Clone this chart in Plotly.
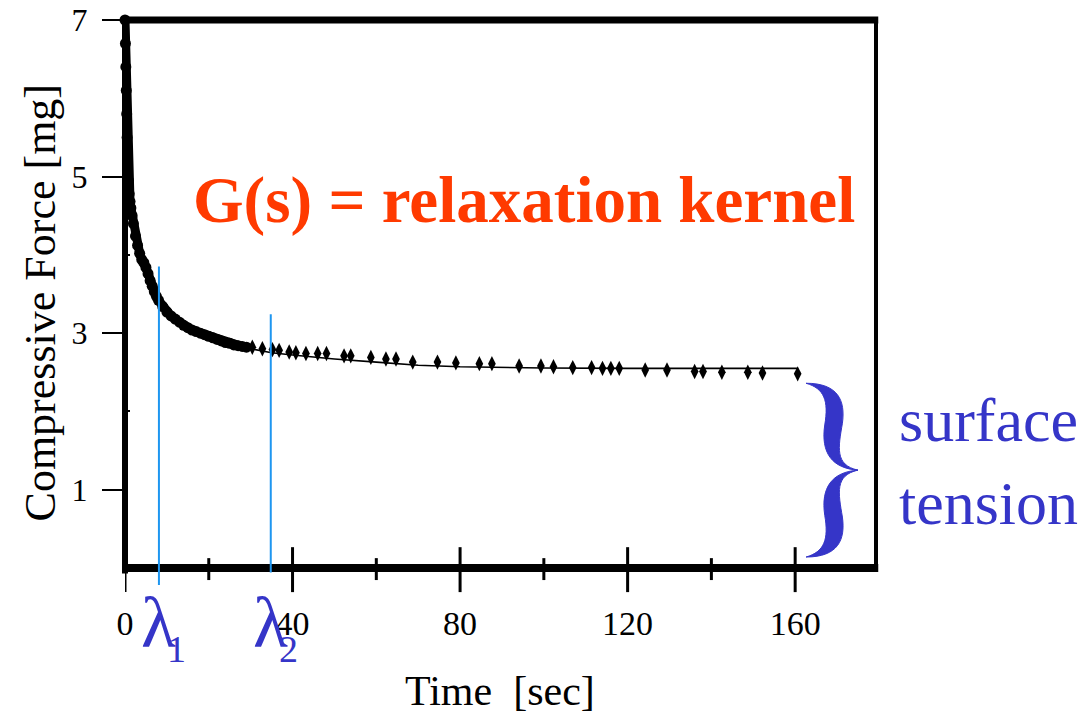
import plotly.graph_objects as go

# ---------------- data ----------------
early_t = [0.0, 0.1, 0.2, 0.3, 0.4, 0.5, 0.6, 0.8, 1.0, 1.2, 1.4, 1.7, 2.0, 2.5, 3.0,
           3.5, 4.0, 4.5, 5.0, 5.5, 6.0, 6.5, 7.0, 7.5, 8.0, 9.0, 10.0, 11.0, 12.0,
           13.0, 14.0, 15.0, 16.0, 17.0, 18.0, 19.0, 20.0, 21.0, 22.0, 23.0, 24.0,
           25.0, 26.0, 27.0, 28.0, 29.0]
early_y = [7.0, 6.7, 6.4, 6.1, 5.8, 5.5, 5.25, 4.95, 4.78, 4.68, 4.6, 4.5, 4.4, 4.24, 4.12,
           4.02, 3.94, 3.9, 3.84, 3.76, 3.67, 3.6, 3.53, 3.47, 3.42, 3.34, 3.27, 3.22, 3.18,
           3.14, 3.1, 3.07, 3.04, 3.02, 3.0, 2.98, 2.96, 2.94, 2.92, 2.9, 2.88,
           2.87, 2.85, 2.84, 2.83, 2.82]

late_t = [30.4, 32.8, 35.2, 36.8, 39.2, 40.8, 43.2, 46.0, 48.1, 52.3, 53.9, 58.7, 62.3,
          64.7, 68.7, 74.6, 79.0, 84.6, 87.6, 94.1, 99.3, 102.3, 106.9, 111.4, 114.0,
          116.0, 118.0, 124.2, 129.4, 136.0, 138.0, 142.5, 148.7, 152.2, 160.6]
late_y = [2.82, 2.80, 2.79, 2.78, 2.76, 2.75, 2.74, 2.74, 2.74, 2.71, 2.71, 2.69, 2.67,
          2.67, 2.63, 2.63, 2.62, 2.61, 2.61, 2.58, 2.58, 2.57, 2.56, 2.56, 2.55,
          2.55, 2.55, 2.53, 2.53, 2.51, 2.51, 2.50, 2.50, 2.49, 2.48]

fit_t = [0, 0.3, 0.6, 1, 1.5, 2, 3, 4, 5, 6, 8, 10, 12, 15, 20, 25, 30, 35, 40, 50, 60,
         70, 80, 90, 100, 120, 140, 160.6]
fit_y = [7.0, 6.1, 5.25, 4.78, 4.55, 4.4, 4.12, 3.94, 3.84, 3.67, 3.42, 3.27, 3.18, 3.07,
         2.96, 2.87, 2.80, 2.75, 2.72, 2.67, 2.63, 2.59, 2.57, 2.56, 2.555, 2.55, 2.55, 2.55]

lambda_t = [8.1, 34.8]          # relaxation times marked by the blue lines
lambda_top = [3.85, 3.24]       # where each marker line ends (force units)
lambda_names = ["1", "2"]

x_major = [0, 40, 80, 120, 160]
x_minor = [20, 60, 100, 140]
y_major = [1, 3, 5, 7]
y_minor = [2, 4, 6]

surface_tension = 2.36          # plateau (brace spans from 0 up to it)
X_RANGE = [0, 179.3]
Y_RANGE = [0, 7]

SERIF = "Liberation Serif, Times New Roman, serif"
BLUE = "#3535C8"
LBLUE = "#1E96F0"
RED = "#FF3A00"

fig = go.Figure()

fig.add_trace(go.Scatter(x=fit_t, y=fit_y, mode="lines",
                         line=dict(color="black", width=1.6), hoverinfo="skip"))
fig.add_trace(go.Scatter(x=early_t, y=early_y, mode="lines+markers",
                         line=dict(color="black", width=9),
                         marker=dict(color="black", size=11, symbol="circle"),
                         cliponaxis=False))
fig.add_trace(go.Scatter(x=late_t, y=late_y, mode="markers",
                         marker=dict(color="black", size=11, symbol="diamond-tall"),
                         cliponaxis=False))

shapes = []
# frame
shapes.append(dict(type="line", xref="paper", yref="paper", x0=0, x1=0, y0=-0.01, y1=1.005,
                   line=dict(color="black", width=6)))
shapes.append(dict(type="line", xref="paper", yref="paper", x0=-0.004, x1=1.003, y0=0, y1=0,
                   line=dict(color="black", width=8)))
shapes.append(dict(type="line", xref="paper", yref="paper", x0=-0.004, x1=1.003, y0=1, y1=1,
                   line=dict(color="black", width=7)))
shapes.append(dict(type="line", xref="paper", yref="paper", x0=1, x1=1, y0=0, y1=1,
                   line=dict(color="black", width=4)))
# x ticks crossing the axis
for v in x_major:
    shapes.append(dict(type="line", xref="x", yref="paper", x0=v, x1=v, y0=-0.044,
                       y1=0.038 if v > 0 else 0, line=dict(color="black", width=3)))
for v in x_minor:
    shapes.append(dict(type="line", xref="x", yref="paper", x0=v, x1=v, y0=-0.022, y1=0.018,
                       line=dict(color="black", width=3)))
# lambda marker lines
for t, top, b in zip(lambda_t, lambda_top, [-0.031, -0.008]):
    yd = (top - Y_RANGE[0]) / (Y_RANGE[1] - Y_RANGE[0])
    shapes.append(dict(type="line", xref="x", yref="y domain", x0=t, x1=t, y0=b, y1=yd,
                       line=dict(color=LBLUE, width=2), layer="above"))

# curly brace for surface tension
bx0, bx1 = 162.6, 175.0
by_top, by_bot = surface_tension, 0.14


def bmap(u, v):
    return f"{bx0 + u * (bx1 - bx0):.3f},{by_top - v * (by_top - by_bot):.4f}"


def brace_half(flip):
    pts = [(0, 0), (0.62, 0.0), (0.76, 0.1), (0.7, 0.23), (0.62, 0.37), (0.55, 0.47), (1, 0.5),
           (0.5, 0.49), (0.28, 0.4), (0.36, 0.24), (0.44, 0.1), (0.35, 0.03), (0, 0)]
    if flip:
        pts = [(u, 1 - v) for u, v in pts]
    p = "M " + bmap(*pts[0])
    for i in range(1, len(pts), 3):
        p += " C " + " ".join(bmap(*q) for q in pts[i:i + 3])
    return p + " Z"


for f in (False, True):
    shapes.append(dict(type="path", xref="x", yref="y", path=brace_half(f),
                       fillcolor=BLUE, line=dict(color=BLUE, width=1)))

annotations = [
    dict(text="Compressive Force [mg]", textangle=-90, xref="paper", yref="paper",
         x=-0.113, y=0.483, showarrow=False, font=dict(family=SERIF, size=44, color="black"),
         xanchor="center", yanchor="middle"),
    dict(text="Time  [sec]", xref="paper", yref="paper", x=0.499, y=-0.225, showarrow=False,
         font=dict(family=SERIF, size=42, color="black"), xanchor="center", yanchor="middle"),
    dict(text="<b>G(s) = relaxation kernel</b>", xref="paper", yref="paper", x=0.531, y=0.672,
         showarrow=False, font=dict(family=SERIF, size=65, color=RED),
         xanchor="center", yanchor="middle"),
    dict(text="surface", xref="paper", yref="paper", x=1.028, y=0.27, showarrow=False,
         font=dict(family=SERIF, size=62, color=BLUE), xanchor="left", yanchor="middle"),
    dict(text="tension", xref="paper", yref="paper", x=1.028, y=0.118, showarrow=False,
         font=dict(family=SERIF, size=62, color=BLUE), xanchor="left", yanchor="middle"),
]
for t, n in zip(lambda_t, lambda_names):
    annotations.append(dict(text="λ", xref="x", yref="paper", x=t, y=-0.1, showarrow=False,
                            font=dict(family=SERIF, size=72, color=BLUE),
                            xanchor="center", yanchor="middle"))
    annotations.append(dict(text=n, xref="x", yref="paper", x=t + 4.3, y=-0.148,
                            showarrow=False, font=dict(family=SERIF, size=38, color=BLUE),
                            xanchor="center", yanchor="middle"))

fig.update_layout(
    width=1085, height=717,
    margin=dict(l=125, r=209, t=20, b=149),
    paper_bgcolor="white", plot_bgcolor="white",
    showlegend=False,
    shapes=shapes,
    annotations=annotations,
    xaxis=dict(range=X_RANGE, showgrid=False, zeroline=False, showline=False,
               automargin=False,
               tickvals=x_major, ticktext=[str(v) for v in x_major], ticks="", ticklen=0,
               ticklabelstandoff=32, tickfont=dict(family=SERIF, size=34, color="black")),
    yaxis=dict(range=Y_RANGE, showgrid=False, zeroline=False, showline=False,
               automargin=False,
               tickvals=y_major, ticktext=[str(v) for v in y_major], ticks="outside",
               ticklen=22, tickwidth=2, tickcolor="black", ticklabelstandoff=8,
               tickfont=dict(family=SERIF, size=32, color="black"),
               minor=dict(tickvals=y_minor, ticks="inside", ticklen=5, tickwidth=1.5,
                          tickcolor="black")),
)

fig.write_html("out.html")
